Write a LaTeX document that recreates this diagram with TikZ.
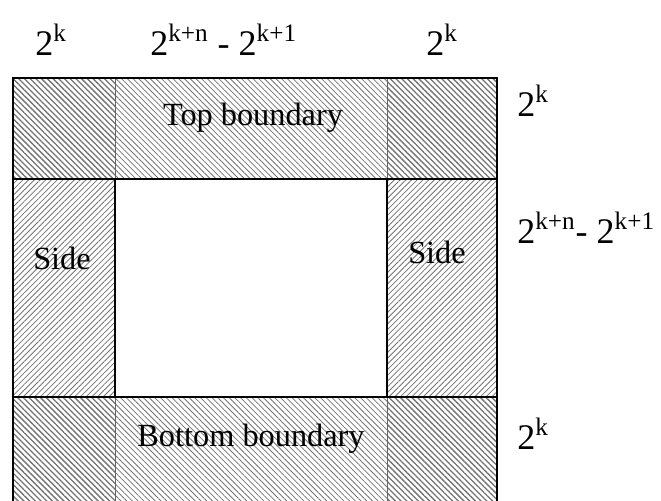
\documentclass[tikz,border=0pt]{standalone}
\usepackage{fontspec}
\setmainfont{Liberation Serif}
\usetikzlibrary{patterns.meta}

\tikzstyle{corner} = [pattern={Lines[angle=-45,distance=2.3pt,line width=0.75pt]}, pattern color=black!55]
\tikzstyle{boundary} = [pattern={Lines[angle=-45,distance=2.3pt,line width=0.45pt]}, pattern color=black!55]
\tikzstyle{side} = [pattern={Lines[angle=45,distance=2.3pt,line width=0.45pt]}, pattern color=black!55]
\tikzstyle{dimlabel} = [inner sep=0pt, anchor=base west, font=\fontsize{20.5}{25}\selectfont]
\tikzstyle{boxtext} = [inner sep=0pt, anchor=base, font=\fontsize{18.4}{22}\selectfont]
\tikzstyle{border} = [draw, line width=0.9pt]
\tikzstyle{divider} = [draw=black!60, line width=0.5pt]

\begin{document}
\begin{tikzpicture}[x=0.02cm,y=-0.02cm]

\useasboundingbox (0,0) rectangle (661,500);
\clip (0,0) rectangle (661,500);

	%Hatched corner squares
	\path[corner] (13,78) rectangle (115,179);
	\path[corner] (387,78) rectangle (497,179);
	\path[corner] (13,397) rectangle (115,505);
	\path[corner] (387,397) rectangle (497,505);

	%Top and bottom boundary strips
	\path[boundary] (115,78) rectangle (387,179);
	\path[boundary] (115,397) rectangle (387,505);

	%Side strips
	\path[side] (13,179) rectangle (115,397);
	\path[side] (387,179) rectangle (497,397);

	%Lines between the cells
	\path[divider] (115,78) -- (115,179) (387,78) -- (387,179);
	\path[divider] (115,397) -- (115,505) (387,397) -- (387,505);
	\path[border] (13,78) rectangle (497,505);
	\path[border] (13,179) -- (497,179) (13,397) -- (497,397);
	\path[border] (115,179) -- (115,397) (387,179) -- (387,397);

	%Texts inside the cells
	\node[boxtext](TopBoundary) at (253,125) {Top boundary};
	\node[boxtext](BottomBoundary) at (251,446) {Bottom boundary};
	\node[boxtext](LeftSide) at (62,269) {Side};
	\node[boxtext](RightSide) at (437,263) {Side};

	%Sizes of the columns
	\node[dimlabel](ColLeft) at (35,55) {2\textsuperscript{k}};
	\node[dimlabel](ColMid) at (150,55) {2\textsuperscript{k+n} - 2\textsuperscript{k+1}};
	\node[dimlabel](ColRight) at (426,55) {2\textsuperscript{k}};

	%Sizes of the rows
	\node[dimlabel](RowTop) at (517,116) {2\textsuperscript{k}};
	\node[dimlabel](RowMid) at (517,243) {2\textsuperscript{k+n}- 2\textsuperscript{k+1}};
	\node[dimlabel](RowBottom) at (517,449) {2\textsuperscript{k}};

\end{tikzpicture}
\end{document}
